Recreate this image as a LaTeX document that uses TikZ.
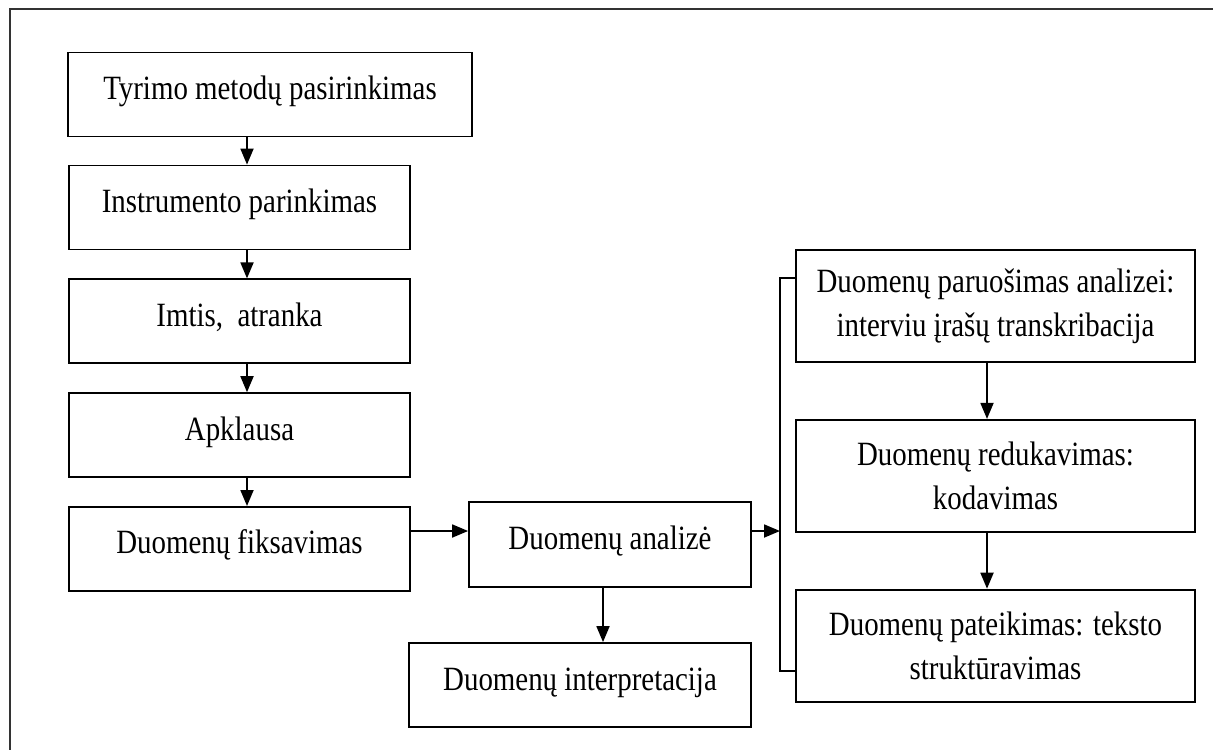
\documentclass[tikz,border=0pt]{standalone}
\usepackage{fontspec}
\setmainfont{Liberation Serif}[FakeStretch=0.85]
\usetikzlibrary{positioning,arrows.meta}
\tikzset{
	blokas/.style={draw,line width=.9pt,inner sep=0pt,align=center,font=\fontsize{17}{22}\selectfont},
	kaire/.style={blokas,minimum width=170.5pt,minimum height=42pt,text height=11pt,text depth=6pt},
	desine/.style={blokas,minimum width=199.5pt,minimum height=56pt},
	rodykle/.style={line width=.9pt,-{Triangle[length=8pt,width=6.5pt]}},
}
\begin{document}
\begin{tikzpicture}[x=0.5pt,y=-0.5pt]
		\clip (0,0) rectangle (1213,749);
		\draw [line width=1pt,black!80] (10,9) rectangle (1240,780);
		% kairysis stulpelis
		\node [kaire,minimum width=202pt] (metodai) at (270,94.5) {Tyrimo metodų pasirinkimas};
		\node [kaire] (instrumentas) at (239.5,207.5) {Instrumento parinkimas};
		\node [kaire,below=14pt of instrumentas] (imtis) {Imtis,\ \ atranka};
		\node [kaire,below=14pt of imtis] (apklausa) {Apklausa};
		\node [kaire,below=14pt of apklausa] (fiksavimas) {Duomenų fiksavimas};
		% vidurys
		\node [kaire,minimum width=141pt,minimum height=42.5pt] (analize) at (610,544.5) {Duomenų analizė};
		\node [kaire,minimum width=171pt] (interpretacija) at (580,685) {Duomenų interpretacija};
		% desinysis stulpelis
		\node [desine] (paruosimas) at (995.5,306) {Duomenų paruošimas analizei:\\interviu įrašų transkribacija};
		\node [desine,below=28pt of paruosimas] (redukavimas) {Duomenų redukavimas:\\kodavimas};
		\node [desine,below=28pt of redukavimas] (pateikimas) {Duomenų pateikimas: teksto\\struktūravimas};
		\coordinate (kx) at (247,0);
		\coordinate (dx) at (987,0);
		\coordinate (ay) at (0,531);
		\coordinate (vx) at (603,0);
		\coordinate (virsus) at (780,278);
		\coordinate (apacia) at (780,671);
		\draw [rodykle] (metodai.south -| kx) -- (instrumentas.north -| kx);
		\draw [rodykle] (instrumentas.south -| kx) -- (imtis.north -| kx);
		\draw [rodykle] (imtis.south -| kx) -- (apklausa.north -| kx);
		\draw [rodykle] (apklausa.south -| kx) -- (fiksavimas.north -| kx);
		\draw [rodykle] (fiksavimas.east |- ay) -- (analize.west |- ay);
		\draw [rodykle] (analize.south -| vx) -- (interpretacija.north -| vx);
		\draw [rodykle] (analize.east |- ay) -- (virsus |- ay);
		\draw [line width=.9pt] (paruosimas.west |- virsus) -- (virsus) -- (apacia) -- (pateikimas.west |- apacia);
		\draw [rodykle] (paruosimas.south -| dx) -- (redukavimas.north -| dx);
		\draw [rodykle] (redukavimas.south -| dx) -- (pateikimas.north -| dx);
		\end{tikzpicture}
\end{document}
